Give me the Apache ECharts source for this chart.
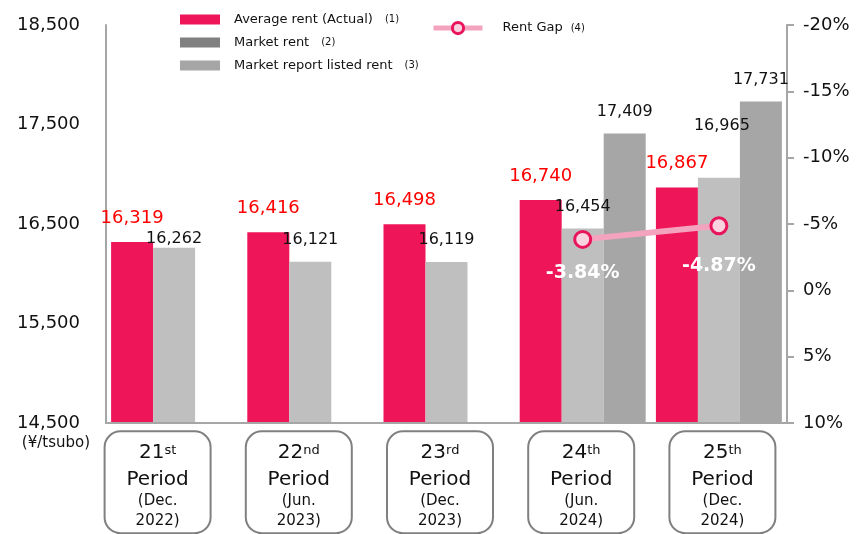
<!DOCTYPE html>
<html><head><meta charset="utf-8">
<script src="https://cdn.jsdelivr.net/npm/echarts@6/dist/echarts.min.js"></script>
<style>html,body{margin:0;padding:0;background:#fff}#c{width:859px;height:534px}</style>
</head><body><div id="c"></div>
<script>
// ---- data ----
const periodNumbers = ['21', '22', '23', '24', '25'];
const periodSuffixes = ['st', 'nd', 'rd', 'th', 'th'];
const periodMonths = ['Dec.', 'Jun.', 'Dec.', 'Jun.', 'Dec.'];
const periodYears = ['2022', '2023', '2023', '2024', '2024'];
const categories = periodNumbers.map((n, i) => n + periodSuffixes[i] + ' Period (' + periodMonths[i] + ' ' + periodYears[i] + ')');
const averageRent = [16319, 16416, 16498, 16740, 16867];
const listedRent = [16262, 16121, 16119, 16454, 16965];
const marketRent = [null, null, null, 17409, 17731];
const rentGap = [null, null, null, -3.84, -4.87];
const leftTicks = [14500, 15500, 16500, 17500, 18500];
const rightTicks = [-20, -15, -10, -5, 0, 5, 10];
const legendNotes = { 'Average rent (Actual)': '(1)', 'Market rent': '(2)', 'Market report listed rent': '(3)', 'Rent Gap': '(4)' };

// ---- label placement tweaks (style only) ----
const listedLabelOffsets = [[0, 13], [0, 0], [0, 0], [0, 0], [3, -30]];
const gapLabelDistances = [0, 0, 0, 15, 21];

const FONT = 'DejaVu Sans';
const RED = '#ee1559', LIGHT = '#bfbfbf', DARK = '#a6a6a6', AXIS = '#a6a6a6';
const fmtNum = v => Number(v).toLocaleString('en-US');

const chart = echarts.init(document.getElementById('c'));
chart.setOption({
  animation: false,
  textStyle: { fontFamily: FONT },
  grid: [
    { left: 106, right: 72, top: 25, bottom: 111 },
    { left: 87, right: 66, top: 431, height: 1 }
  ],
  legend: [{
    orient: 'vertical', left: 180, top: 13, padding: 0, itemWidth: 40, itemHeight: 10, itemGap: 10,
    selectedMode: false,
    data: [
      { name: 'Average rent (Actual)', icon: 'rect', itemStyle: { color: RED } },
      { name: 'Market rent', icon: 'rect', itemStyle: { color: '#808080' } },
      { name: 'Market report listed rent', icon: 'rect', itemStyle: { color: '#a6a6a6' } }
    ],
    formatter: name => '{t|' + name + '}{n|' + legendNotes[name] + '}',
    textStyle: { fontFamily: FONT, rich: {
      t: { fontFamily: FONT, fontSize: 13, color: '#111', lineHeight: 10, padding: [0, 0, 0, 9] },
      n: { fontFamily: FONT, fontSize: 10, color: '#111', lineHeight: 10, padding: [0, 0, 0, 12] }
    } }
  }, {
    left: 431, top: 21, padding: 0, itemWidth: 49, itemHeight: 14, selectedMode: false,
    data: [{ name: 'Rent Gap', lineStyle: { width: 5, color: '#f4a3bf' },
      itemStyle: { color: '#fbd3e0', borderColor: '#e8155a', borderWidth: 3 } }],
    formatter: name => '{t|' + name + '}{n|' + legendNotes[name] + '}',
    textStyle: { fontFamily: FONT, rich: {
      t: { fontFamily: FONT, fontSize: 13, color: '#111', padding: [0, 0, 0, 15] },
      n: { fontFamily: FONT, fontSize: 10, color: '#111', padding: [0, 0, 0, 8] }
    } }
  }],
  xAxis: [{
    type: 'category', data: categories, gridIndex: 0,
    axisLine: { show: true, onZero: false, lineStyle: { color: AXIS, width: 2 } },
    axisTick: { show: false }, axisLabel: { show: false }, splitLine: { show: false }, z: 5
  }, {
    type: 'category', data: categories, gridIndex: 1,
    axisLine: { show: false, onZero: false }, axisTick: { show: false }, splitLine: { show: false },
    axisLabel: {
      interval: 0, margin: 1,
      formatter: (v, i) => '{n|' + periodNumbers[i] + '}{s|' + periodSuffixes[i] + '}\n{p|Period}\n{d|(' + periodMonths[i] + '}\n{d|' + periodYears[i] + ')}',
      width: 104, padding: [5, 0, 1, 0], align: 'center', verticalAlign: 'top',
      borderColor: '#808080', borderWidth: 2, borderRadius: 15, backgroundColor: '#fff',
      rich: {
        n: { fontFamily: FONT, fontSize: 20, lineHeight: 32, color: '#111' },
        s: { fontFamily: FONT, fontSize: 13, height: 26, verticalAlign: 'top', color: '#111' },
        p: { fontFamily: FONT, fontSize: 20, lineHeight: 22, color: '#111' },
        d: { fontFamily: FONT, fontSize: 15, lineHeight: 20, color: '#111' }
      }
    }
  }],
  yAxis: [{
    type: 'value', gridIndex: 0, position: 'left',
    min: leftTicks[0], max: leftTicks[leftTicks.length - 1], interval: 500,
    axisLine: { show: true, lineStyle: { color: AXIS, width: 2 } },
    axisTick: { show: false }, splitLine: { show: false },
    axisLabel: { margin: 26, fontSize: 18, color: '#111', fontFamily: FONT,
      formatter: v => leftTicks.includes(v) ? fmtNum(v) : '' },
    name: '(¥/tsubo)', nameLocation: 'start', nameGap: 13,
    nameTextStyle: { fontFamily: FONT, fontSize: 15, color: '#111', align: 'right', verticalAlign: 'top', padding: [0, 16, 0, 0] }
  }, {
    type: 'value', gridIndex: 0, position: 'right', inverse: true,
    min: rightTicks[0], max: rightTicks[rightTicks.length - 1], interval: 5,
    axisLine: { show: true, lineStyle: { color: AXIS, width: 2 } },
    axisTick: { show: true, length: 7, lineStyle: { color: AXIS, width: 2 } },
    splitLine: { show: false },
    axisLabel: { margin: 16, fontSize: 18, color: '#111', fontFamily: FONT, formatter: '{value}%' }
  }, {
    type: 'value', gridIndex: 1, show: false
  }],
  series: [{
    name: 'Average rent (Actual)', type: 'bar', xAxisIndex: 0, yAxisIndex: 0,
    data: averageRent, barWidth: 42, barGap: '0%',
    itemStyle: { color: RED },
    label: { show: true, position: 'top', distance: 15, color: '#ff0000', fontSize: 18, fontFamily: FONT, formatter: p => fmtNum(p.value) }
  }, {
    name: 'Market report listed rent', type: 'bar', xAxisIndex: 0, yAxisIndex: 0,
    data: listedRent.map((v, i) => ({ value: v, label: { offset: listedLabelOffsets[i] } })),
    barWidth: 42, barGap: '0%',
    itemStyle: { color: LIGHT },
    label: { show: true, position: 'top', distance: 14, color: '#111', fontSize: 16, fontFamily: FONT, formatter: p => fmtNum(p.value) }
  }, {
    name: 'Market rent', type: 'bar', xAxisIndex: 0, yAxisIndex: 0,
    data: marketRent, barWidth: 42, barGap: '0%',
    itemStyle: { color: DARK },
    label: { show: true, position: 'top', distance: 14, color: '#111', fontSize: 16, fontFamily: FONT, formatter: p => p.value == null ? '' : fmtNum(p.value) }
  }, {
    name: 'Rent Gap', type: 'line', xAxisIndex: 0, yAxisIndex: 1, z: 10,
    data: rentGap.map((v, i) => ({ value: v, label: { distance: gapLabelDistances[i] } })),
    symbol: 'circle', symbolSize: 16,
    itemStyle: { color: '#fbd3e0', borderColor: '#e8155a', borderWidth: 3 },
    lineStyle: { color: '#f4a3bf', width: 6 },
    label: { show: true, position: 'bottom', color: '#fff', fontWeight: 'bold', fontSize: 19, fontFamily: FONT,
      formatter: p => p.value == null ? '' : Number(p.value).toFixed(2) + '%' }
  }]
});
</script></body></html>
